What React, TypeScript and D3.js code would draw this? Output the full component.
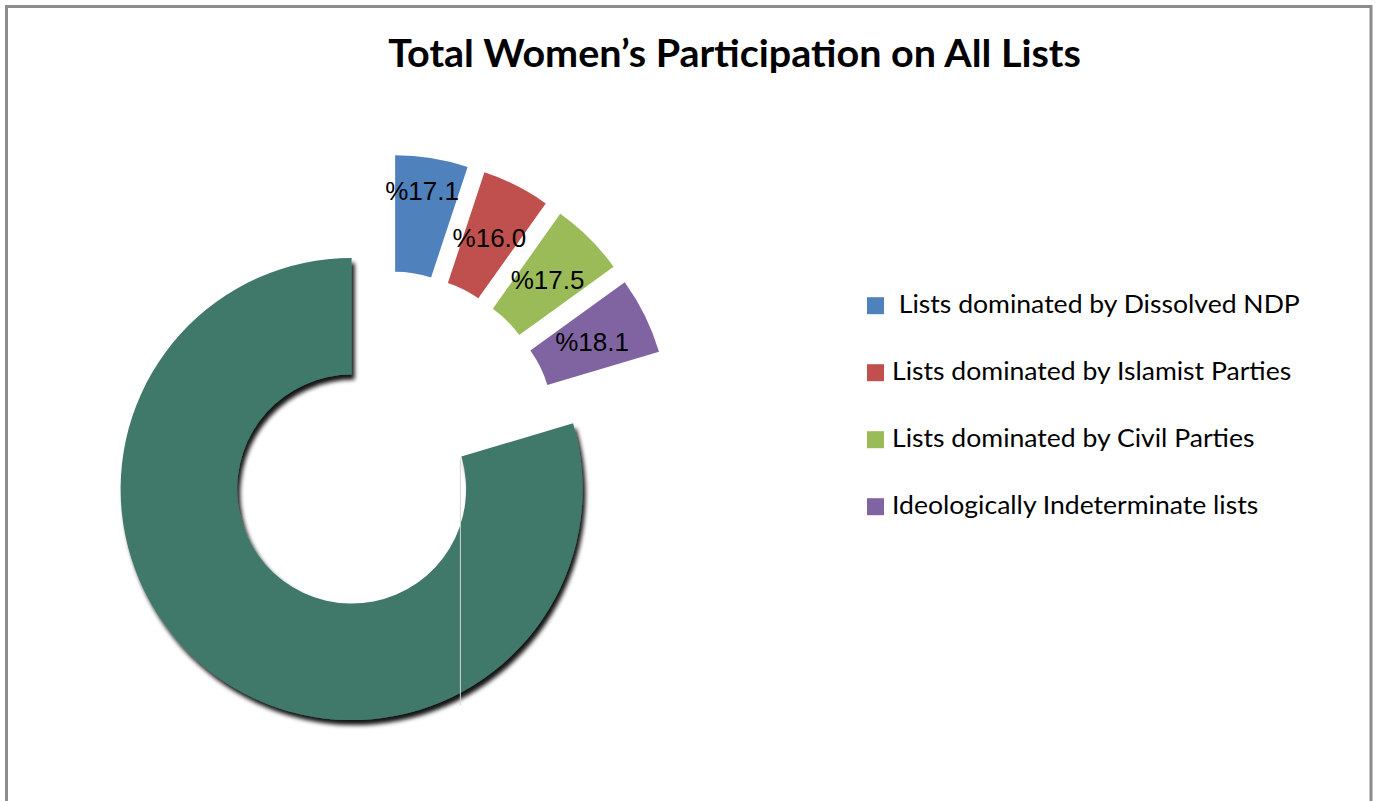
import * as d3 from 'd3';
import { useEffect, useRef } from 'react';

const WIDTH = 1377;
const HEIGHT = 801;

const TITLE = 'Total Women’s Participation on All Lists';

// legend entries (the first one has a leading space in the original)
const categories = [
    ' Lists dominated by Dissolved NDP',
    'Lists dominated by Islamist Parties',
    'Lists dominated by Civil Parties',
    'Ideologically Indeterminate lists',
];
const shares = [17.1, 16.0, 17.5, 18.1];
const colors = ['#4F81BD', '#C0504D', '#9BBB59', '#8064A2'];

// big unlabelled ring segment, value (~286 deg)
const remainderValue = 268;
const remainderColor = '#41786A';

type Slice = { name: string; value: number; color: string; labelled: boolean };

const App: React.FC = () => {
    const svgRef = useRef<SVGSVGElement | null>(null);

    useEffect(() => {
        if (!svgRef.current) return;
        const svg = d3.select(svgRef.current);
        svg.selectAll('*').remove();

        const cx = 386;
        const cy = 443;
        const outerR = 231;
        const innerR = 114.5;
        const explode = 57.5;

        svg.append('rect').attr('width', WIDTH).attr('height', HEIGHT).attr('fill', '#ffffff');

        // outer chart frame
        svg.append('rect')
            .attr('x', 6.5)
            .attr('y', 6.5)
            .attr('width', 1364.5)
            .attr('height', 900)
            .attr('fill', 'none')
            .attr('stroke', '#8c8c8c')
            .attr('stroke-width', 3);

        const defs = svg.append('defs');
        defs.append('filter')
            .attr('id', 'ringShadow')
            .attr('x', '-10%')
            .attr('y', '-10%')
            .attr('width', '130%')
            .attr('height', '130%')
            .append('feDropShadow')
            .attr('dx', 3)
            .attr('dy', 5)
            .attr('stdDeviation', 2.2)
            .attr('flood-color', '#000000')
            .attr('flood-opacity', 0.92);

        // Title (Calibri-like look: condensed to the measured width)
        const title = svg
            .append('text')
            .attr('transform', `translate(734.5,67.3)`)
            .attr('text-anchor', 'middle')
            .style('font-family', 'Lato, "Open Sans", sans-serif')
            .style('font-weight', 'bold')
            .style('font-size', '38px')
            .attr('fill', '#000')
            .text(TITLE);
        const tw = (title.node() as SVGTextElement).getComputedTextLength();
        if (tw > 0) title.attr('transform', `translate(734.5,67.3) scale(${693 / tw},1)`);

        const slices: Slice[] = [
            ...shares.map((v, i) => ({ name: categories[i], value: v, color: colors[i], labelled: true })),
            { name: 'remainder', value: remainderValue, color: remainderColor, labelled: false },
        ];

        const pie = d3
            .pie<Slice>()
            .sort(null)
            .value((d) => d.value);
        const arcs = pie(slices);
        const arc = d3.arc<d3.PieArcDatum<Slice>>().innerRadius(innerR).outerRadius(outerR);

        const shift = (a: d3.PieArcDatum<Slice>) => {
            const mid = (a.startAngle + a.endAngle) / 2;
            return [explode * Math.sin(mid), -explode * Math.cos(mid)];
        };

        const ring = svg.append('g').attr('transform', `translate(${cx},${cy})`);

        // Draw the big segment first so its shadow sits under everything else
        const ordered = [arcs[arcs.length - 1], ...arcs.slice(0, -1)];
        ordered.forEach((a) => {
            const [tx, ty] = shift(a);
            const g = ring.append('g').attr('transform', `translate(${tx},${ty})`);
            const path = g.append('path').attr('d', arc(a)).attr('fill', a.data.color);
            if (!a.data.labelled) {
                path.attr('filter', 'url(#ringShadow)');
                // thin light seam visible in the original render
                const sx = innerR * Math.sin(a.startAngle);
                const sy = -innerR * Math.cos(a.startAngle);
                const ey = Math.sqrt(outerR * outerR - sx * sx) + 13;
                g.append('line')
                    .attr('x1', sx - 1)
                    .attr('x2', sx - 1)
                    .attr('y1', sy + 2)
                    .attr('y2', ey)
                    .attr('stroke', '#cfd6d4')
                    .attr('stroke-width', 1);
            }
        });

        // Data labels
        arcs.forEach((a, i) => {
            if (!a.data.labelled) return;
            const [tx, ty] = shift(a);
            const [lx, ly] = arc.centroid(a);
            const lift = i === 0 ? -25 : 0; // first label sits higher in the original
            ring.append('text')
                .attr('x', tx + lx - 0.5)
                .attr('y', ty + ly + lift)
                .attr('dy', '0.36em')
                .attr('text-anchor', 'middle')
                .style('font-family', '"Liberation Sans", Arial, sans-serif')
                .style('font-size', '26px')
                .attr('fill', '#000')
                .text(`%${a.data.value.toFixed(1)}`);
        });

        // Legend
        const rowY = d3.scalePoint<string>().domain(categories).range([305.7, 506.7]);
        const legend = svg.append('g');
        const rows = legend
            .selectAll('g.row')
            .data(categories)
            .join('g')
            .attr('class', 'row');
        rows.append('rect')
            .attr('x', 867)
            .attr('y', (d) => rowY(d)! - 8.5)
            .attr('width', 17)
            .attr('height', 17)
            .attr('fill', (_d, i) => colors[i]);
        const texts = rows
            .append('text')
            .attr('transform', (d) => `translate(892,${rowY(d)! + 7.7})`)
            .style('font-family', 'Lato, "Open Sans", sans-serif')
            .style('font-size', '25.5px')
            .style('white-space', 'pre')
            .attr('fill', '#000')
            .text((d) => d);
        // single horizontal squeeze so the legend spans the same width as the original
        const widths = texts.nodes().map((n) => (n as SVGTextElement).getComputedTextLength());
        const maxW = d3.max(widths) ?? 0;
        if (maxW > 0) {
            const k = 408 / maxW;
            texts.attr('transform', (d) => `translate(892,${rowY(d)! + 7.7}) scale(${k},1)`);
        }
    }, []);

    return (
        <svg
            ref={svgRef}
            width={WIDTH}
            height={HEIGHT}
            style={{ position: 'absolute', left: 0, top: 0, display: 'block' }}
        ></svg>
    );
};

export default App;
